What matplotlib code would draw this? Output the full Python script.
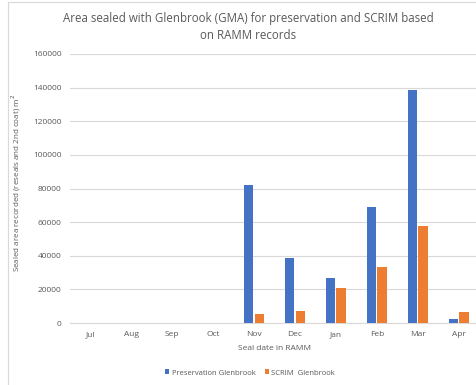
import matplotlib.pyplot as plt
import numpy as np
from matplotlib.patches import Rectangle

plt.rcParams['font.family'] = ['Open Sans', 'DejaVu Sans']

months = ['Jul', 'Aug', 'Sep', 'Oct', 'Nov', 'Dec', 'Jan', 'Feb', 'Mar', 'Apr']
preservation = [0, 0, 0, 0, 82000, 38500, 26800, 69000, 138700, 2200]
scrim = [0, 0, 0, 0, 5200, 7300, 21000, 33200, 57700, 6300]

blue = '#4472C4'
orange = '#ED7D31'
txt = '#595959'

fig = plt.figure(figsize=(4.76, 3.85), dpi=100)
ax = fig.add_axes([70 / 476, 1 - 323 / 385, 409 / 476, 269 / 385])

x = np.arange(len(months))
w = 0.23
ax.bar(x - 0.13, preservation, w, color=blue, label='Preservation Glenbrook', zorder=3)
ax.bar(x + 0.13, scrim, w, color=orange, label='SCRIM  Glenbrook', zorder=3)

ax.set_xlim(-0.5, len(months) - 0.5)
ax.set_ylim(0, 160000)
ax.set_yticks(range(0, 160001, 20000))
ax.set_xticks(x)
ax.set_xticklabels(months)
ax.tick_params(axis='both', length=0, labelsize=6, colors=txt, pad=6)
ax.grid(axis='y', color='#D9D9D9', linewidth=0.8, zorder=0)
for s in ['top', 'right', 'left']:
    ax.spines[s].set_visible(False)
ax.spines['bottom'].set_color('#D9D9D9')

ax.set_xlabel('Seal date in RAMM', fontsize=6, color=txt, labelpad=5)
ax.set_ylabel('Sealed area recorded (reseals and 2nd coat) m$^2$', fontsize=5.8, color=txt, labelpad=4)
ax.yaxis.set_label_coords(-0.115, 0.52)

fig.text(248 / 476, 1 - 27 / 385, 'Area sealed with Glenbrook (GMA) for preservation and SCRIM based\non RAMM records',
         ha='center', va='center', fontsize=8.3, color=txt, linespacing=1.35)

ax.legend(loc='center', ncol=2, frameon=False, fontsize=5.5, handlelength=0.6, handleheight=0.6,
          columnspacing=1.2, handletextpad=0.3, labelcolor=txt)
leg = ax.get_legend()
leg.set_bbox_to_anchor((250 / 476, 1 - 373 / 385), transform=fig.transFigure)

fig.patches.append(Rectangle((8 / 476, -0.1), 1.2, 1.1 - 2 / 385, transform=fig.transFigure,
                             fill=False, edgecolor='#D9D9D9', linewidth=0.8))

plt.savefig('out.png', dpi=100)
